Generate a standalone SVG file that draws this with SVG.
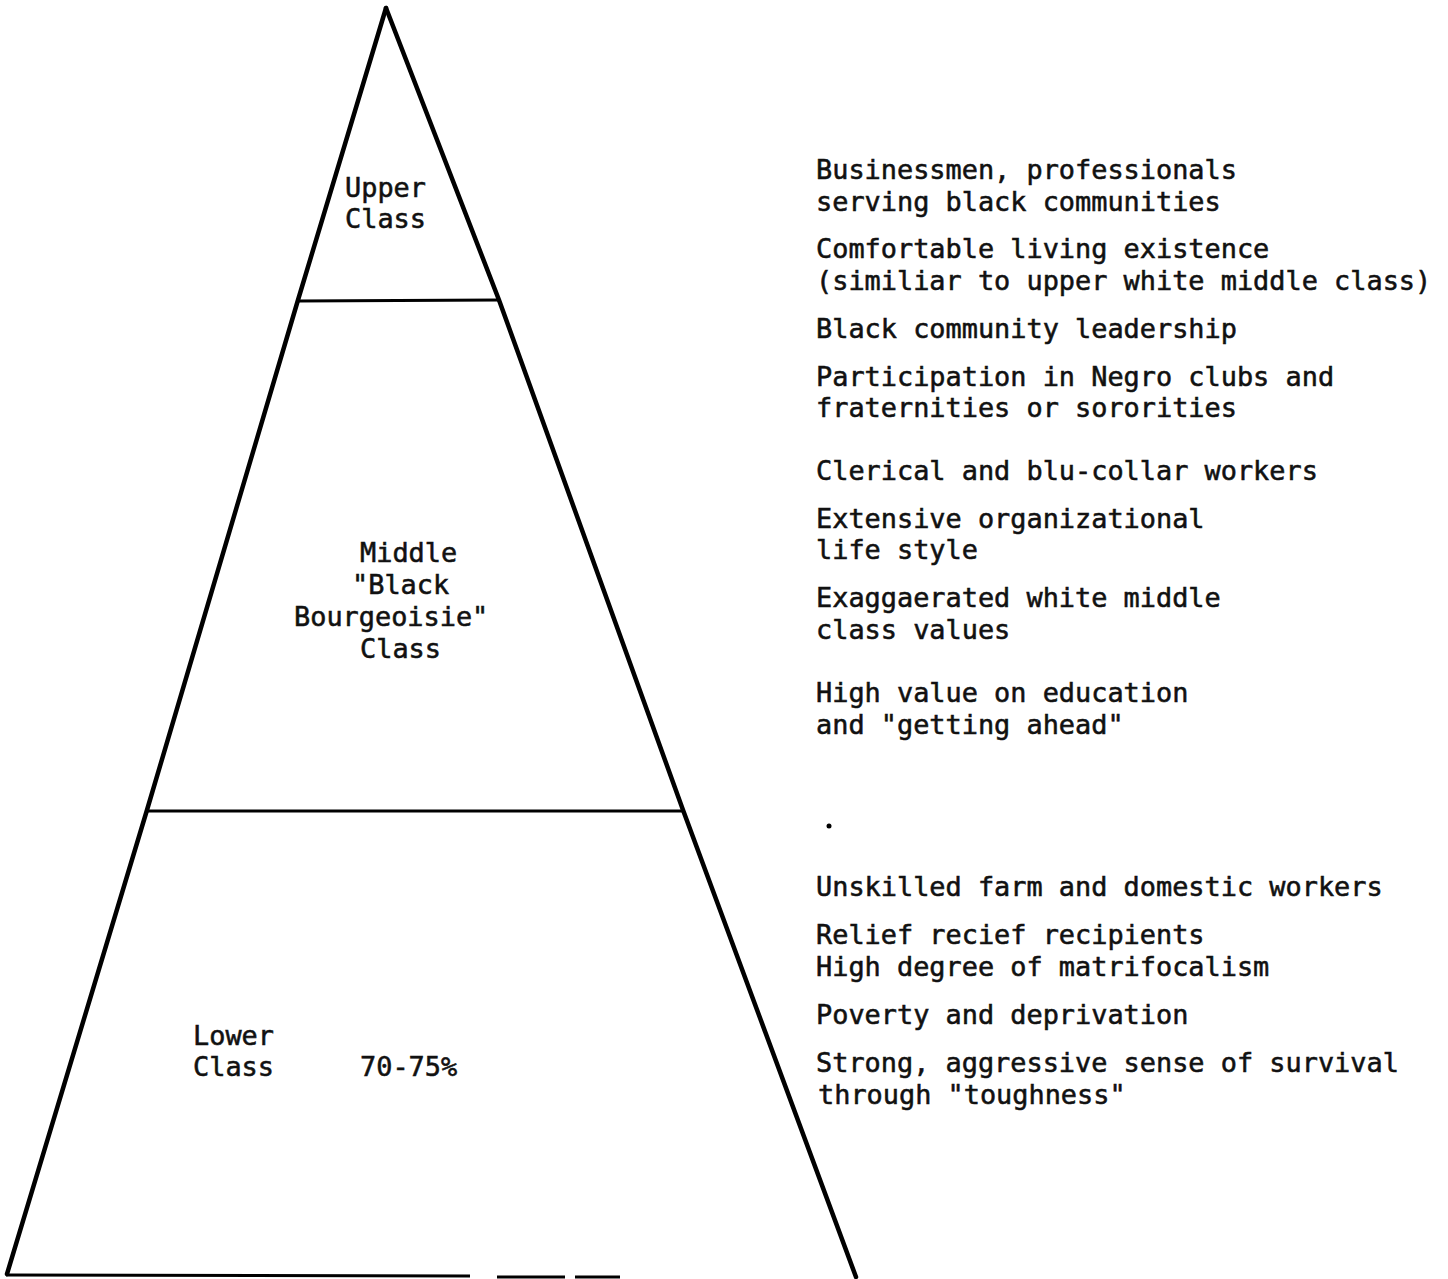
<svg xmlns="http://www.w3.org/2000/svg" width="1448" height="1279" viewBox="0 0 1448 1279">
<style>
.t{font-family:"DejaVu Sans Mono","Liberation Mono",monospace;font-size:26.9px;fill:#111;stroke:#111;stroke-width:0.55}
.e{fill:none;stroke:#000;stroke-width:4.5;stroke-linejoin:miter;stroke-linecap:round}
.h{fill:none;stroke:#000;stroke-width:3}
</style>
<rect width="1448" height="1279" fill="#fff"/>
<g id="pyramid">
<path class="e" d="M7,1274 L147,810 L298,300 L386,8"/>
<path class="e" d="M386,8 L499,300 L683,810 L856,1277"/>
</g>
<g id="dividers">
<line class="h" x1="297" y1="301" x2="499" y2="300"/>
<line class="h" x1="146" y1="811" x2="683" y2="811" stroke-width="4"/>
<line class="h" x1="6" y1="1275" x2="470" y2="1276" stroke-width="3.5"/>
<line class="h" x1="497" y1="1277" x2="565" y2="1277" stroke="#555"/>
<line class="h" x1="575" y1="1277" x2="620" y2="1277" stroke="#777"/>
</g>
<g id="upper-label">
<text class="t" x="345" y="197">Upper</text>
<text class="t" x="345" y="228">Class</text>
</g>
<g id="middle-label">
<text class="t" x="360" y="562">Middle</text>
<text class="t" x="352" y="594">"Black</text>
<text class="t" x="294" y="626">Bourgeoisie"</text>
<text class="t" x="360" y="658">Class</text>
</g>
<g id="lower-label">
<text class="t" x="193" y="1045">Lower</text>
<text class="t" x="193" y="1076">Class</text>
<text class="t" x="360" y="1076">70-75%</text>
</g>
<g id="upper-traits">
<text class="t" x="816" y="179">Businessmen, professionals</text>
<text class="t" x="816" y="211">serving black communities</text>
<text class="t" x="816" y="258">Comfortable living existence</text>
<text class="t" x="816" y="290">(similiar to upper white middle class)</text>
<text class="t" x="816" y="338">Black community leadership</text>
<text class="t" x="816" y="386">Participation in Negro clubs and</text>
<text class="t" x="816" y="417">fraternities or sororities</text>
</g>
<g id="middle-traits">
<text class="t" x="816" y="480">Clerical and blu-collar workers</text>
<text class="t" x="816" y="528">Extensive organizational</text>
<text class="t" x="816" y="559">life style</text>
<text class="t" x="816" y="607">Exaggaerated white middle</text>
<text class="t" x="816" y="639">class values</text>
<text class="t" x="816" y="702">High value on education</text>
<text class="t" x="816" y="734">and "getting ahead"</text>
</g>
<circle cx="829" cy="826" r="2.5" fill="#000"/>
<g id="lower-traits">
<text class="t" x="816" y="896">Unskilled farm and domestic workers</text>
<text class="t" x="816" y="944">Relief recief recipients</text>
<text class="t" x="816" y="976">High degree of matrifocalism</text>
<text class="t" x="816" y="1024">Poverty and deprivation</text>
<text class="t" x="816" y="1072">Strong, aggressive sense of survival</text>
<text class="t" x="818" y="1104">through "toughness"</text>
</g>
</svg>
